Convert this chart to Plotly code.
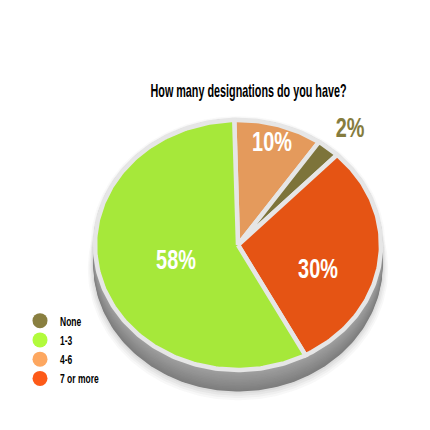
import numpy as np
import plotly.graph_objects as go

title = "How many designations do you have?"
clock_categories = ["4-6", "None", "7 or more", "1-3"]
slice_values = [10, 2.6, 30, 57.4]   # drawn share
label_values = [10, 2, 30, 58]       # share as printed
clock_colors = ["#e49a5c", "#7d743a", "#e55414", "#a6e83a"]
label_colors = ["#ffffff", "#857c3e", "#ffffff", "#ffffff"]
legend_categories = ["None", "1-3", "4-6", "7 or more"]
legend_colors = ["#897f40", "#b2fb3c", "#fda760", "#fd5a18"]

FONT = "Liberation Sans"
START = -1.5
OFF = 8  # page body margin
CX, CY, RX, RY = 238 - OFF, 245 - OFF, 143, 125
W = H = 430 - OFF
ring = "#e6e6e6"
label_offsets_px = [(34, -101), (112, -115), (80, 26), (-62, 17)]

fig = go.Figure()

def ellipse(dy_px=0.0, scale=1.0):
    t = np.linspace(0, 2 * np.pi, 240)
    return scale * np.sin(t), scale * np.cos(t) - dy_px / RY

# soft shadow around the disc
for s, dy, op in [(1.05, 24, .035), (1.04, 23, .04), (1.03, 22, .05), (1.02, 21, .06), (1.01, 20, .08),
                  (1.03, 0, .03), (1.02, 0, .04), (1.01, 0, .05)]:
    x, y = ellipse(dy, s)
    fig.add_trace(go.Scatter(x=x, y=y, mode="lines", fill="toself", fillcolor=f"rgba(60,60,60,{op})",
                             line=dict(width=0), hoverinfo="skip", showlegend=False))
# extruded side
layers = 14
for i in range(layers):
    f = i / (layers - 1)
    c = int(126 + f * 36)
    x, y = ellipse(20 * (1 - f), 1.012)
    fig.add_trace(go.Scatter(x=x, y=y, mode="lines", fill="toself", fillcolor=f"rgb({c},{c},{c})",
                             line=dict(width=0), hoverinfo="skip", showlegend=False))

# slices
total = sum(slice_values)
a = START
for cat, v, col in zip(clock_categories, slice_values, clock_colors):
    sweep = v / total * 360
    t = np.radians(np.linspace(a, a + sweep, max(int(sweep), 3) + 1))
    x = np.concatenate([[0], np.sin(t), [0]])
    y = np.concatenate([[0], np.cos(t), [0]])
    fig.add_trace(go.Scatter(x=x, y=y, mode="lines", fill="toself", fillcolor=col, name=cat,
                             line=dict(color=ring, width=4.5), hoverinfo="name", showlegend=False))
    a += sweep

# value labels
for v, (dx, dy), c in zip(label_values, label_offsets_px, label_colors):
    fig.add_trace(go.Scatter(x=[dx / RX], y=[-dy / RY], mode="text", text=[f"{v}%"],
                             textposition="middle center",
                             textfont=dict(family=FONT, size=28, color=c, weight="bold"),
                             hoverinfo="skip", showlegend=False))

# legend entries
for cat, col in zip(legend_categories, legend_colors):
    fig.add_trace(go.Scatter(x=[None], y=[None], mode="markers", name=cat,
                             marker=dict(color=col, size=15)))

fig.update_layout(
    width=W, height=H, margin=dict(l=0, r=0, t=0, b=0),
    paper_bgcolor="white", plot_bgcolor="white",
    xaxis=dict(visible=False, range=[-CX / RX, (W - CX) / RX], fixedrange=True),
    yaxis=dict(visible=False, range=[-(H - CY) / RY, CY / RY], fixedrange=True),
    annotations=[dict(text=title, xref="paper", yref="paper", x=(248 - OFF) / W, xanchor="center",
                      y=1 - (91 - OFF) / H, yanchor="middle", showarrow=False,
                      font=dict(family=FONT, size=18, color="#000000", weight="bold"))],
    legend=dict(x=(20 - OFF) / W, xanchor="left", y=1 - (306 - OFF) / H, yanchor="top", bgcolor="rgba(0,0,0,0)",
                font=dict(family=FONT, size=12.5, color="#000000", weight="bold"), traceorder="normal",
                itemclick=False, itemdoubleclick=False),
    showlegend=True,
)

# The reference uses a tall condensed face; squeeze the real text horizontally.
squeeze = """
var gd = document.getElementById('{plot_id}');
function sq(sel, k, f) {
  gd.querySelectorAll(sel).forEach(function (el) {
    var b = el.getBBox();
    var ox = b.x + b.width * f;
    var old = el.getAttribute('transform') || '';
    el.setAttribute('transform', old + ' translate(' + ox + ',0) scale(' + k + ',1) translate(' + (-ox) + ',0)');
  });
}
sq('.annotation-text', 0.60, 0.5);
sq('.textpoint text', 0.71, 0.5);
sq('.legendtext', 0.68, 0);
"""
fig.write_html("out.html", config={"displayModeBar": False}, post_script=squeeze)
